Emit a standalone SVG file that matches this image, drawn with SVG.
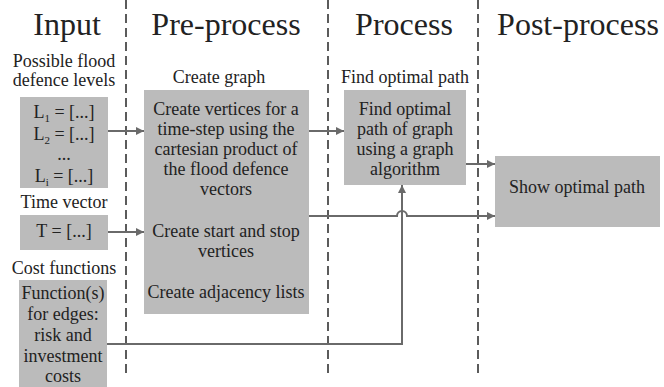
<svg xmlns="http://www.w3.org/2000/svg" width="664" height="387" viewBox="0 0 664 387">
<style>
text{font-family:"Liberation Serif",Tinos,"Times New Roman",Times,"Noto Serif","DejaVu Serif","Nimbus Roman","FreeSerif",serif;fill:#222;text-anchor:middle}
.h{font-size:32px}
.t{font-size:18px}
.box{fill:#bbbbbb}
.dash{stroke:#333;stroke-width:1.6;stroke-dasharray:9,5;fill:none}
.c{stroke:#6a6a6a;stroke-width:2;fill:none}
</style>
<defs>
<marker id="ah" viewBox="0 0 10 10" refX="10" refY="5" markerWidth="9" markerHeight="8" markerUnits="userSpaceOnUse" orient="auto">
<path d="M0,0 L10,5 L0,10 z" fill="#6a6a6a"/>
</marker>
</defs>
<g id="lanes">
<line class="dash" x1="126" y1="0" x2="126" y2="376"/>
<line class="dash" x1="328" y1="0" x2="328" y2="376"/>
<line class="dash" x1="478" y1="0" x2="478" y2="376"/>
<text class="h" x="67" y="35">Input</text>
<text class="h" x="226" y="35">Pre-process</text>
<text class="h" x="404" y="35">Process</text>
<text class="h" x="578" y="35">Post-process</text>
</g>
<g id="levels">
<text class="t" x="64" y="67">Possible flood</text>
<text class="t" x="64" y="86">defence levels</text>
<rect class="box" x="20" y="97" width="88" height="91"/>
<text class="t" x="64" y="118">L<tspan font-size="11" dy="4">1</tspan><tspan dy="-4"> = [...]</tspan></text>
<text class="t" x="64" y="140">L<tspan font-size="11" dy="4">2</tspan><tspan dy="-4"> = [...]</tspan></text>
<text class="t" x="64" y="160">...</text>
<text class="t" x="64" y="182">L<tspan font-size="11" dy="4">i</tspan><tspan dy="-4"> = [...]</tspan></text>
</g>
<g id="time">
<text class="t" x="64" y="208">Time vector</text>
<rect class="box" x="20" y="215" width="88" height="35"/>
<text class="t" x="64" y="237">T = [...]</text>
</g>
<g id="cost">
<text class="t" x="64" y="274">Cost functions</text>
<rect class="box" x="19" y="280" width="88" height="107"/>
<text class="t" x="63" y="299">Function(s)</text>
<text class="t" x="63" y="320">for edges:</text>
<text class="t" x="63" y="341">risk and</text>
<text class="t" x="63" y="362">investment</text>
<text class="t" x="63" y="382">costs</text>
</g>
<g id="pre">
<text class="t" x="219" y="83">Create graph</text>
<rect class="box" x="144" y="90" width="165" height="224"/>
<text class="t" x="226" y="115">Create vertices for a</text>
<text class="t" x="226" y="135">time-step using the</text>
<text class="t" x="226" y="155">cartesian product of</text>
<text class="t" x="226" y="175">the flood defence</text>
<text class="t" x="226" y="195">vectors</text>
<text class="t" x="226" y="237">Create start and stop</text>
<text class="t" x="226" y="257">vertices</text>
<text class="t" x="226" y="298">Create adjacency lists</text>
</g>
<g id="process">
<text class="t" x="405" y="83">Find optimal path</text>
<rect class="box" x="344" y="90" width="122" height="95"/>
<text class="t" x="405" y="115">Find optimal</text>
<text class="t" x="405" y="135">path of graph</text>
<text class="t" x="405" y="155">using a graph</text>
<text class="t" x="405" y="175">algorithm</text>
</g>
<g id="show">
<rect class="box" x="495" y="156" width="165" height="71"/>
<text class="t" x="577" y="193">Show optimal path</text>
</g>
<g id="connectors">
<line class="c" x1="108" y1="131" x2="144" y2="131" marker-end="url(#ah)"/>
<line class="c" x1="108" y1="232" x2="144" y2="232" marker-end="url(#ah)"/>
<line class="c" x1="309" y1="131" x2="344" y2="131" marker-end="url(#ah)"/>
<line class="c" x1="466" y1="164" x2="495" y2="164" marker-end="url(#ah)"/>
<path class="c" d="M309,216 H397 A5,5 0 0 1 407,216 H495" marker-end="url(#ah)"/>
<path class="c" d="M107,344 H402 V185" marker-end="url(#ah)"/>
</g>
</svg>
